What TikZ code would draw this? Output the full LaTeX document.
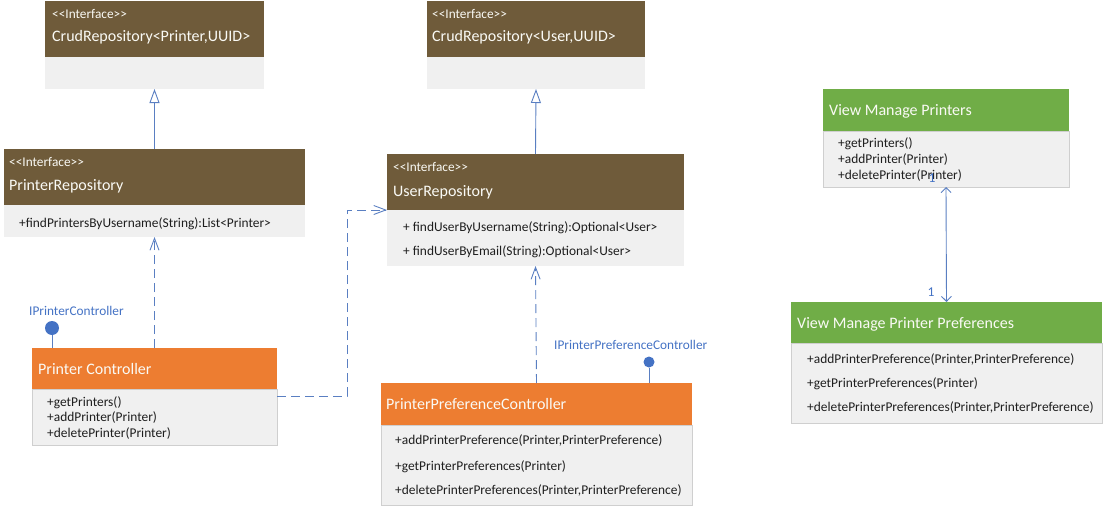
\documentclass[tikz,border=0pt]{standalone}
\usepackage{fontspec}
\setmainfont{Carlito}
\usetikzlibrary{arrows.meta,calc}

\definecolor{brownhd}{HTML}{6F5B3A}
\definecolor{orangehd}{HTML}{ED7D31}
\definecolor{greenhd}{HTML}{70AD47}
\definecolor{bodygray}{HTML}{F0F0F0}
\definecolor{edgegray}{HTML}{CFCFCF}
\definecolor{linkblue}{HTML}{5A7FC2}
\definecolor{dotblue}{HTML}{4472C4}
\definecolor{hdtext}{HTML}{FAFAF5}
\definecolor{optext}{HTML}{1E1E1E}

% class box: name, left, top, width, header height, body height, header colour, body style
\newcommand\classbox[8]{%
  \node[hdr, fill=#7, minimum width=#4pt, minimum height=#5pt] (#1-h) at (#2,#3) {};
  \node[#8, minimum width=#4pt, minimum height=#6pt] (#1-b) at (#1-h.south west) {};
}

\tikzset{
  hdr/.style={anchor=north west, inner sep=0pt, outer sep=0pt},
  plainbody/.style={anchor=north west, fill=bodygray, inner sep=0pt, outer sep=0pt},
  framedbody/.style={plainbody, draw=edgegray, line width=0.8pt},
  stereo/.style={anchor=base west, inner sep=0pt, text=hdtext, font=\fontsize{13.3}{15}\selectfont},
  ttl/.style={anchor=base west, inner sep=0pt, text=hdtext, font=\fontsize{16}{18}\selectfont},
  op/.style={anchor=base west, inner sep=0pt, text=optext, font=\fontsize{13.4}{15}\selectfont},
  iface/.style={anchor=base west, inner sep=0pt, text=dotblue, font=\fontsize{13.3}{15}\selectfont},
  mult/.style={anchor=base, inner sep=0pt, text=dotblue, font=\fontsize{13.5}{15}\selectfont},
  link/.style={draw=linkblue, line width=0.9pt},
  inh/.style={link, -{Triangle[open, length=14pt, width=10pt, fill=white]}},
  dep/.style={link, dash pattern=on 9pt off 5pt, -{Straight Barb[length=12pt, width=9pt]}},
  assoc/.style={link, {Straight Barb[length=5pt, width=10pt]}-{Straight Barb[length=5pt, width=10pt]}},
  lolli/.style={circle, fill=dotblue, inner sep=0pt, outer sep=0pt},
}

\begin{document}
\begin{tikzpicture}[x=1pt, y=-1pt]
\useasboundingbox (0,0) rectangle (1104,506);

% ---- classes ----
\classbox{crudP}{45}{1}{219}{56}{32}{brownhd}{plainbody}
\classbox{crudU}{427}{1}{218}{56}{32}{brownhd}{plainbody}
\classbox{prepo}{4}{149}{301}{56}{32}{brownhd}{plainbody}
\classbox{urepo}{387}{154}{297}{56}{56}{brownhd}{plainbody}
\classbox{pctl}{32}{348}{245}{41}{56}{orangehd}{framedbody}
\classbox{ppc}{381}{383}{311}{42}{80}{orangehd}{framedbody}
\classbox{vmp}{823}{89}{246}{42}{56}{greenhd}{framedbody}
\classbox{vmpp}{791}{302}{311}{41}{80}{greenhd}{framedbody}

% ---- class texts ----
\node[stereo] (crudP-s) at (52,18.3) {<{}<Interface>{}>};
\node[ttl] (crudP-t) at (52,41) {CrudRepository<Printer,UUID>};

\node[stereo] (crudU-s) at (432,18.3) {<{}<Interface>{}>};
\node[ttl] (crudU-t) at (432,41) {CrudRepository<User,UUID>};

\node[stereo] (prepo-s) at (9,166.3) {<{}<Interface>{}>};
\node[ttl] (prepo-t) at (9,190) {PrinterRepository};
\node[op] (prepo-o1) at (19,227.3) {+findPrintersByUsername(String):List<Printer>};

\node[stereo] (urepo-s) at (393,171.3) {<{}<Interface>{}>};
\node[ttl] (urepo-t) at (393,196) {UserRepository};
\node[op] (urepo-o1) at (403,231.3) {+ findUserByUsername(String):Optional<User>};
\node[op] (urepo-o2) at (403,255.3) {+ findUserByEmail(String):Optional<User>};

\node[ttl] (pctl-t) at (38,374) {Printer Controller};
\node[op] (pctl-o1) at (47,406.3) {+getPrinters()};
\node[op] (pctl-o2) at (47,421.3) {+addPrinter(Printer)};
\node[op] (pctl-o3) at (47,437.3) {+deletePrinter(Printer)};

\node[ttl] (ppc-t) at (386,409) {PrinterPreferenceController};
\node[op] (ppc-o1) at (395,444.3) {+addPrinterPreference(Printer,PrinterPreference)};
\node[op] (ppc-o2) at (395,470.3) {+getPrinterPreferences(Printer)};
\node[op] (ppc-o3) at (395,494.3) {+deletePrinterPreferences(Printer,PrinterPreference)};

\node[ttl] (vmp-t) at (829,115) {View Manage Printers};
\node[op] (vmp-o1) at (838,147.3) {+getPrinters()};
\node[op] (vmp-o2) at (838,163.3) {+addPrinter(Printer)};
\node[op] (vmp-o3) at (838,179.3) {+deletePrinter(Printer)};

\node[ttl] (vmpp-t) at (797,328) {View Manage Printer Preferences};
\node[op] (vmpp-o1) at (807,363.3) {+addPrinterPreference(Printer,PrinterPreference)};
\node[op] (vmpp-o2) at (807,387.3) {+getPrinterPreferences(Printer)};
\node[op] (vmpp-o3) at (807,411.3) {+deletePrinterPreferences(Printer,PrinterPreference)};

% ---- provided interfaces (lollipops) ----
\node[lolli, minimum size=14pt] (ipc) at (52,328) {};
\node[iface] (ipc-l) at (29,315.3) {IPrinterController};
\draw[link] (ipc) -- (ipc |- pctl-h.north);

\node[lolli, minimum size=11pt] (ippc) at (649,362) {};
\node[iface] (ippc-l) at (554,349) {IPrinterPreferenceController};
\draw[link] (ippc) -- (ippc |- ppc-h.north);

% ---- generalisations ----
\draw[inh] (prepo-h.north) -- (crudP-b.south);
\draw[inh] (urepo-h.north) -- (crudU-b.south);

% ---- dependencies ----
\draw[dep] (pctl-h.north) -- (prepo-b.south);
\draw[dep] (ppc-h.north) -- (urepo-b.south);
\coordinate (bend) at ($(urepo-h.south west)+(-40,0)$);
\draw[dep] ([yshift=-7pt]pctl-b.north east) -| (bend) -- (urepo-h.south west);

% ---- association ----
\draw[assoc] (vmp-b.south) -- (vmpp-h.north);
\node[mult] (m1) at (932,182) {1};
\node[mult] (m2) at (931,296) {1};

\end{tikzpicture}
\end{document}
